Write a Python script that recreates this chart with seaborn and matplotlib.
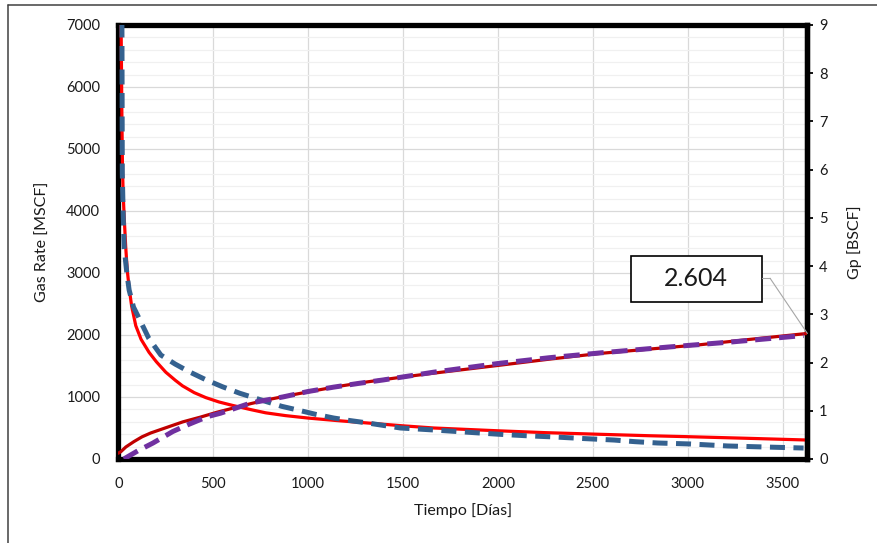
import numpy as np
import pandas as pd
import seaborn as sns
import matplotlib.pyplot as plt
from matplotlib.lines import Line2D
from matplotlib.patches import Rectangle
from matplotlib.ticker import MultipleLocator

# --- DATA ---
# gas rate, model (solid red) [MSCF]
rate_model_t = [6, 10, 15, 19, 22, 26, 31, 39, 47, 57, 70, 92, 120, 162, 200, 250,
                300, 338, 400, 461, 530, 601, 700, 776, 880, 1000, 1150, 1316, 1500,
                1663, 1850, 2000, 2250, 2542, 2800, 3000, 3300, 3630]
rate_model_q = [12000, 8600, 6900, 5500, 4700, 4250, 3900, 3420, 3050, 2760, 2470,
                2150, 1930, 1720, 1570, 1400, 1270, 1180, 1070, 990, 920, 865, 795,
                745, 700, 660, 620, 580, 535, 500, 475, 455, 425, 398, 375, 360, 335, 306]

# gas rate, actual (blue dashed) [MSCF]
rate_data_t = [17, 19, 21, 26, 31, 45, 57, 80, 118, 160, 224, 300, 373, 460, 548,
               640, 724, 787, 860, 945, 1040, 1134, 1220, 1313, 1400, 1487, 1570,
               1661, 1800, 2000, 2150, 2300, 2450, 2611, 2720, 2842, 3016, 3210,
               3400, 3610]
rate_data_q = [8000, 7100, 4600, 3900, 3400, 3000, 2726, 2450, 2215, 1950, 1677,
               1530, 1408, 1280, 1166, 1060, 979, 919, 850, 790, 720, 661, 620, 581,
               540, 500, 485, 468, 440, 400, 375, 355, 330, 306, 280, 258, 242, 210,
               194, 177]

# cumulative, model (dark red solid) [BSCF]
gp_model_t = [0, 13, 40, 82, 125, 171, 215, 259, 340, 434, 520, 610, 700, 787, 890,
              997, 1150, 1313, 1480, 1661, 1830, 2000, 2270, 2539, 2800, 3066, 3350, 3630]
gp_model = [0.12, 0.15, 0.25, 0.36, 0.46, 0.54, 0.60, 0.66, 0.77, 0.87, 0.97, 1.06,
            1.15, 1.23, 1.31, 1.39, 1.50, 1.60, 1.69, 1.78, 1.86, 1.94, 2.07, 2.19,
            2.28, 2.37, 2.49, 2.604]

# cumulative, actual (purple dashed) [BSCF]
gp_data_t = [29, 103, 182, 287, 366, 471, 539, 697, 871, 1000, 1134, 1270, 1397,
             1530, 1661, 2000, 2270, 2539, 2892, 3239, 3524, 3610]
gp_data = [0.0, 0.17, 0.33, 0.57, 0.71, 0.88, 0.95, 1.16, 1.29, 1.40, 1.49, 1.57,
           1.64, 1.72, 1.80, 1.98, 2.10, 2.20, 2.32, 2.43, 2.53, 2.56]

gp_final_label = "2.604"

# --- STYLE ---
sns.set_theme(style="white")
plt.rcParams['font.family'] = ['Lato', 'DejaVu Sans']
TXT = '#1A1A1A'

fig = plt.figure(figsize=(8.77, 5.43), dpi=100)
ax = fig.add_axes([0.1349, 0.1547, 0.7857, 0.7993])
ax2 = ax.twinx()

# grid (left axis)
ax.set_xlim(0, 3630)
ax.set_ylim(0, 7000)
ax.xaxis.set_major_locator(MultipleLocator(500))
ax.yaxis.set_major_locator(MultipleLocator(1000))
ax.yaxis.set_minor_locator(MultipleLocator(200))
ax.grid(which='major', color='#D9D9D9', lw=0.9)
ax.grid(which='minor', axis='y', color='#F0F0F0', lw=0.9)
ax.set_axisbelow(True)

# rate curves
sns.lineplot(x=rate_model_t, y=rate_model_q, ax=ax, color='#FF0000', lw=2.3, zorder=3)
sns.lineplot(x=rate_data_t, y=rate_data_q, ax=ax, color='#34618F', lw=3.6, zorder=4)
ax.lines[-1].set_dashes((3.0, 1.7))
ax.lines[-1].set_dash_capstyle('butt')

# cumulative curves
ax2.set_ylim(0, 9)
ax2.yaxis.set_major_locator(MultipleLocator(1))
sns.lineplot(x=gp_model_t, y=gp_model, ax=ax2, color='#C00000', lw=2.3, zorder=3)
sns.lineplot(x=gp_data_t, y=gp_data, ax=ax2, color='#7030A0', lw=3.6, zorder=4)
ax2.lines[-1].set_dashes((3.2, 1.6))
ax2.lines[-1].set_dash_capstyle('butt')
ax2.grid(False)

# spines
for s in ax.spines.values():
    s.set_linewidth(3.8)
    s.set_color('black')
for name, s in ax2.spines.items():
    if name == 'right':
        s.set_visible(True)
        s.set_linewidth(3.8)
        s.set_color('black')
    else:
        s.set_visible(False)

# ticks + labels
tick_font = 10.5
ax.tick_params(axis='x', which='both', length=0, pad=13, labelsize=tick_font, colors=TXT)
ax.tick_params(axis='y', which='both', length=0, pad=13, labelsize=tick_font, colors=TXT)
ax2.tick_params(axis='y', direction='out', length=4.5, width=1.3, color='black',
                pad=4, labelsize=tick_font, labelcolor=TXT, left=False, right=True)
ax2.tick_params(axis='y', which='minor', length=0)

ax.set_xlabel("Tiempo [Días]", fontsize=11.5, labelpad=9, color=TXT)
ax.set_ylabel("Gas Rate [MSCF]", fontsize=11.5, labelpad=12, color=TXT)
ax2.set_ylabel("Gp [BSCF]", fontsize=11.5, labelpad=14, color=TXT)

# data label box for the final Gp value
ax.add_patch(Rectangle((0.7437, 0.3624), 0.1901, 0.1053, transform=ax.transAxes,
                       facecolor='white', edgecolor='black', lw=1.2, zorder=6,
                       clip_on=False))
ax.text(0.7437 + 0.1901 / 2, 0.3624 + 0.1053 / 2, gp_final_label, transform=ax.transAxes,
        ha='center', va='center', fontsize=18, color=TXT, zorder=7)
ax2.plot([0.9338, 0.9459], [0.4164, 0.4164], transform=ax2.transAxes,
         color='#A6A6A6', lw=0.8, zorder=5, clip_on=False)
ax2.annotate("", xy=(gp_model_t[-1], gp_model[-1]), xytext=(0.9459, 0.4164),
             textcoords='axes fraction',
             arrowprops=dict(arrowstyle='-', color='#A6A6A6', lw=0.8,
                             shrinkA=0, shrinkB=0), zorder=5)

# outer frame (top and left edge of the screenshot)
fig.add_artist(Line2D([0.0091, 0.0091], [0.0, 0.9908], color='#404040', lw=1.1))
fig.add_artist(Line2D([0.0091, 1.0], [0.9908, 0.9908], color='#404040', lw=1.1))

fig.savefig("out.png", dpi=100)
